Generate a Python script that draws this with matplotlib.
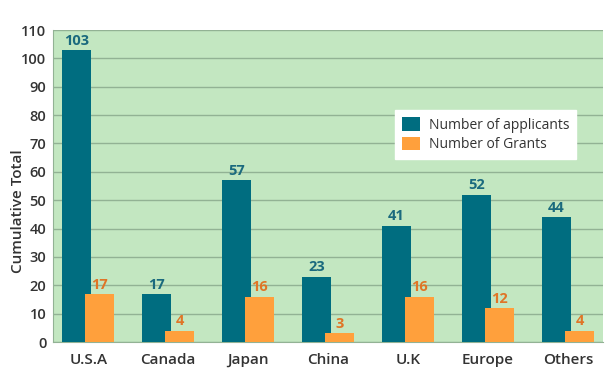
import numpy as np
import matplotlib.pyplot as plt

# data
countries = ['U.S.A', 'Canada', 'Japan', 'China', 'U.K', 'Europe', 'Others']
applicants = [103, 17, 57, 23, 41, 52, 44]
grants = [17, 4, 16, 3, 16, 12, 4]

teal = '#006d80'
orange = '#ffa03c'
plt.rcParams['font.family'] = ['Open Sans', 'DejaVu Sans']

fig = plt.figure(figsize=(6.12, 3.8), dpi=100)
ax = fig.add_axes([0.087, 0.1, 0.898, 0.821])
ax.set_facecolor('#c3e7c1')

x = np.arange(len(countries))
w = 0.3625
off = 0.145
ax.bar(x - off, applicants, w, color=teal, label='Number of applicants', zorder=3)
ax.bar(x + off, grants, w, color=orange, label='Number of Grants', zorder=3.5)

for xi, v in zip(x, applicants):
    ax.text(xi - off, v + 0.8, str(v), ha='center', va='bottom', color='#1b6a7e',
            fontsize=10.5, fontweight='bold', zorder=4)
for xi, v in zip(x, grants):
    ax.text(xi + off, v + 0.8, str(v), ha='center', va='bottom', color='#e07526',
            fontsize=10.5, fontweight='bold', zorder=4)

ax.set_xlim(-0.4375, 6.4375)
ax.set_ylim(0, 110)
ax.set_yticks(range(0, 111, 10))
ax.set_xticks(x)
ax.set_xticklabels(countries)
ax.yaxis.grid(True, color='#92b294', linewidth=1, zorder=1)
ax.tick_params(axis='x', length=0, labelsize=11, labelcolor='#333333', pad=8)
ax.tick_params(axis='y', length=0, labelsize=10.5, labelcolor='#333333', pad=5)
for lab in ax.get_xticklabels() + ax.get_yticklabels():
    lab.set_fontweight('semibold')
for s in ['top', 'right']:
    ax.spines[s].set_visible(False)
ax.spines['left'].set_color('#92b294')
ax.spines['bottom'].set_color('#92b294')
ax.set_ylabel('Cumulative Total', fontsize=11, fontweight='semibold', color='#333333')
ax.yaxis.set_label_coords(-0.052, 0.42)

leg = ax.legend(loc='upper left', bbox_to_anchor=(0.61, 0.765), frameon=True, fancybox=False,
                fontsize=10, handlelength=1.3, handleheight=1.1, borderpad=0.5,
                labelspacing=0.3, handletextpad=0.6)
leg.get_frame().set_facecolor('white')
leg.get_frame().set_edgecolor('white')
leg.get_frame().set_alpha(1)
for t in leg.get_texts():
    t.set_color('#333333')

fig.savefig('out.png', dpi=100)
